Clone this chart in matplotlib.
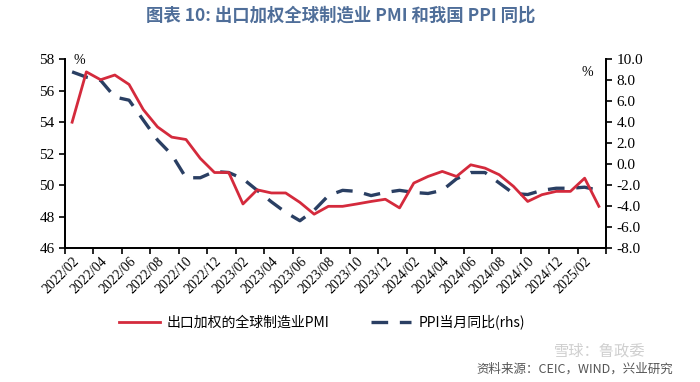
import matplotlib
matplotlib.use("Agg")
import matplotlib.pyplot as plt
import numpy as np

plt.rcParams['font.family'] = ['Noto Sans CJK SC', 'DejaVu Sans']

months = [f"{y}/{m:02d}" for y in (2022, 2023, 2024, 2025) for m in range(1, 13)]
months = months[1:39]  # 2022/02 .. 2025/03

pmi = [54.0, 57.2, 56.7, 57.0, 56.4, 54.8, 53.7, 53.05, 52.9, 51.7,
       50.8, 50.8, 48.8, 49.7, 49.5, 49.5, 48.9, 48.15, 48.65, 48.65,
       48.8, 48.96, 49.1, 48.55, 50.13, 50.55, 50.87, 50.55, 51.29, 51.08,
       50.66, 49.92, 48.96, 49.39, 49.6, 49.6, 50.44, 48.65]
ppi = [8.8, 8.3, 8.0, 6.4, 6.1, 4.2, 2.3, 0.9, -1.3, -1.3,
       -0.7, -0.8, -1.4, -2.5, -3.6, -4.6, -5.4, -4.4, -3.0, -2.5,
       -2.6, -3.0, -2.7, -2.5, -2.7, -2.8, -2.5, -1.4, -0.8, -0.8,
       -1.8, -2.8, -2.9, -2.5, -2.3, -2.3, -2.2, -2.5]

red = '#D42A3C'
navy = '#2A3F63'
serif = 'Liberation Serif'

fig = plt.figure(figsize=(7, 3.82), dpi=100)
ax = fig.add_axes([65/700, 1-248/382, (606-65)/700, (248-59.3)/382])
ax2 = ax.twinx()

x = np.arange(len(months))
l1, = ax.plot(x, pmi, color=red, lw=2.0, label='出口加权的全球制造业PMI', zorder=3)
l2, = ax2.plot(x, ppi, color=navy, lw=2.4, dashes=(5, 3.5), label='PPI当月同比(rhs)')
ax.set_zorder(ax2.get_zorder() + 1)
ax.patch.set_visible(False)

ax.set_xlim(-0.5, len(months) - 0.5)
ax.set_ylim(46, 58)
ax.set_yticks(np.arange(46, 59, 2))
ax2.set_ylim(-8, 10)
ax2.set_yticks(np.arange(-8, 11, 2))
ax2.set_yticklabels([f"{v:.1f}" for v in np.arange(-8, 11, 2)])

# x ticks: marks at boundaries every 2 months, labels at category centres
ax.set_xticks(np.arange(-0.5, len(months), 2))
ax.set_xticklabels([])
ax.set_xticks(np.arange(0, len(months), 2), minor=True)
ax.set_xticklabels([months[i] for i in range(0, len(months), 2)], minor=True,
                   rotation=45, ha='right', rotation_mode='anchor')
ax.tick_params(axis='x', which='minor', length=0, pad=5, labelsize=10,
               labelfontfamily=serif)
ax.tick_params(axis='x', which='major', length=4, width=1.2, direction='out')

for a in (ax, ax2):
    a.spines['top'].set_visible(False)
    for s in ('left', 'right', 'bottom'):
        a.spines[s].set_linewidth(1.3)
ax.tick_params(axis='y', length=4, width=1.2, labelsize=11, labelfontfamily=serif)
ax2.tick_params(axis='y', length=4, width=1.2, labelsize=11, labelfontfamily=serif)

fig.text(79/700, 1-60/382, '%', ha='center', va='center', family=serif, fontsize=10)
fig.text(587/700, 1-73/382, '%', ha='center', va='center', family=serif, fontsize=10)

fig.text(341/700, 1-16/382, '图表 10: 出口加权全球制造业 PMI 和我国 PPI 同比',
         ha='center', va='center', fontsize=12.5, fontweight='bold', color='#4F6E99')

fig.legend(handles=[l1, l2], loc='center', bbox_to_anchor=(322/700, 1-322/382),
           ncol=2, frameon=False, fontsize=10, handlelength=2.9, columnspacing=3.0,
           handletextpad=0.5)

fig.text(600/700, 1-351/382, '雪球：鲁政委', ha='center', va='center', fontsize=11,
         color='#CFCFCF')
fig.text(673/700, 1-369/382, '资料来源：CEIC，WIND，兴业研究', ha='right', va='center',
         fontsize=9, color='#555555')

fig.savefig('out.png', dpi=100)
